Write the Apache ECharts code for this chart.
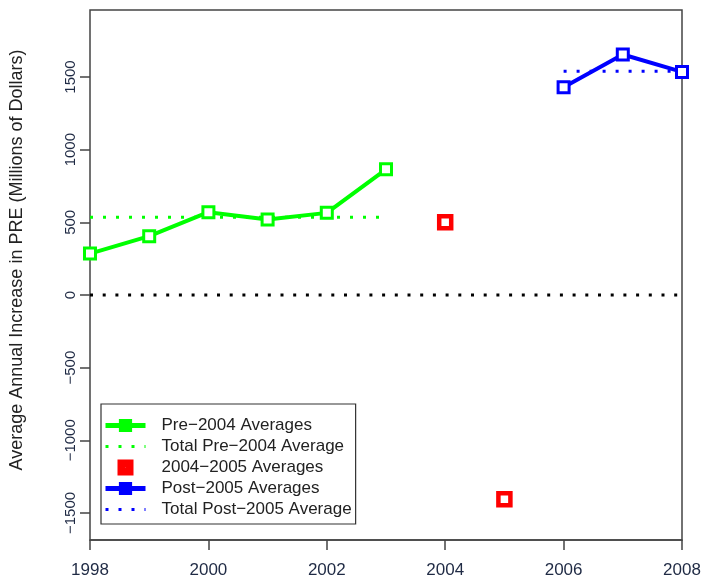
<!DOCTYPE html>
<html>
<head>
<meta charset="utf-8">
<script src="https://cdn.jsdelivr.net/npm/echarts@6/dist/echarts.min.js"></script>
<style>html,body{margin:0;padding:0;background:#fff;}#c{width:703px;height:577px;}</style>
</head>
<body>
<div id="c"></div>
<script>
const preYears = [1998, 1999, 2000, 2001, 2002, 2003];
const preValues = [285, 405, 570, 520, 565, 865];
const preAvg = 535;
const midYears = [2004, 2005];
const midValues = [500, -1405];
const postYears = [2006, 2007, 2008];
const postValues = [1430, 1655, 1535];
const postAvg = 1540;
const zeroLine = [0, 0];
const zeroYears = [1998, 2008];
const yTicks = [-1500, -1000, -500, 0, 500, 1000, 1500];
const names = ['Pre\u22122004 Averages', 'Total Pre\u22122004 Average', '2004\u22122005 Averages', 'Post\u22122005 Averages', 'Total Post\u22122005 Average'];

const font = 'Liberation Sans, Arial, sans-serif';
const hidden = { color: 'transparent', borderWidth: 0, opacity: 0 };
const chart = echarts.init(document.getElementById('c'));
chart.setOption({
  animation: false,
  backgroundColor: '#fff',
  grid: { left: 90, right: 21, top: 10, bottom: 37, show: true, borderColor: '#444', borderWidth: 1.5, backgroundColor: 'transparent', outerBoundsMode: 'none', containLabel: false },
  xAxis: {
    type: 'value', min: 1998, max: 2008, interval: 2,
    axisLine: { show: true, onZero: false, lineStyle: { color: '#444', width: 1.5 } },
    axisTick: { show: true, length: 10, inside: false, lineStyle: { color: '#444', width: 1.5 } },
    axisLabel: { margin: 22, fontSize: 17, color: '#1f2a44', fontFamily: font, formatter: v => String(v) },
    splitLine: { show: false }
  },
  yAxis: {
    type: 'value', min: -1686, max: 1961,
    name: 'Average Annual Increase in PRE (Millions of Dollars)',
    nameLocation: 'middle', nameRotate: 90, nameGap: 64,
    nameTextStyle: { fontSize: 18, color: '#222', fontFamily: font, padding: [0, 0, 0, 30] },
    axisLine: { show: false },
    axisTick: { show: true, length: 10, customValues: yTicks, lineStyle: { color: '#444', width: 1.5 } },
    axisLabel: { rotate: 90, margin: 12, fontSize: 15, color: '#1f2a44', fontFamily: font, customValues: yTicks, formatter: v => String(v).replace('-', '\u2212') },
    splitLine: { show: false }
  },
  legend: {
    orient: 'vertical', left: 101, top: 404,
    padding: [13, 4, 6, 2], itemGap: 4, itemWidth: 40, itemHeight: 14,
    borderColor: '#333', borderWidth: 1.2, backgroundColor: '#fff',
    textStyle: { fontSize: 17, lineHeight: 14, color: '#222', fontFamily: font, padding: [0, 0, 0, 11] },
    data: [
      { name: names[0], itemStyle: { color: '#00ff00', borderColor: '#00ff00' }, lineStyle: { width: 5 } },
      { name: names[1], itemStyle: hidden, lineStyle: { width: 3 } },
      { name: names[2], icon: 'path://M0,0L12,0L12,12L0,12Z M5,5L5,7L7,7L7,5Z', itemStyle: { color: '#ff0000' } },
      { name: names[3], itemStyle: { color: '#0000ff', borderColor: '#0000ff' }, lineStyle: { width: 5 } },
      { name: names[4], itemStyle: hidden, lineStyle: { width: 3 } }
    ]
  },
  series: [
    {
      name: 'zero', type: 'line', data: zeroYears.map((x, i) => [x, zeroLine[i]]),
      symbol: 'none', silent: true,
      lineStyle: { color: '#000', width: 3, type: [3, 9.7] }
    },
    {
      name: names[1], type: 'line', data: [[preYears[0], preAvg], [preYears[preYears.length - 1], preAvg]],
      symbol: 'none', color: '#00ff00',
      lineStyle: { color: '#00ff00', width: 3, type: [3, 10] }
    },
    {
      name: names[4], type: 'line', data: [[postYears[0], postAvg], [postYears[postYears.length - 1], postAvg]],
      symbol: 'none', color: '#0000ff',
      lineStyle: { color: '#0000ff', width: 3, type: [3, 10] }
    },
    {
      name: names[0], type: 'line', data: preYears.map((x, i) => [x, preValues[i]]),
      symbol: 'rect', symbolSize: 11, color: '#00ff00',
      lineStyle: { color: '#00ff00', width: 4 },
      itemStyle: { color: '#fff', borderColor: '#00ff00', borderWidth: 3 }
    },
    {
      name: names[2], type: 'scatter', data: midYears.map((x, i) => [x, midValues[i]]),
      symbol: 'rect', symbolSize: 12, color: '#ff0000',
      itemStyle: { color: '#fff', borderColor: '#ff0000', borderWidth: 4.5, opacity: 1 }
    },
    {
      name: names[3], type: 'line', data: postYears.map((x, i) => [x, postValues[i]]),
      symbol: 'rect', symbolSize: 11, color: '#0000ff',
      lineStyle: { color: '#0000ff', width: 4 },
      itemStyle: { color: '#fff', borderColor: '#0000ff', borderWidth: 3 }
    }
  ]
});
</script>
</body>
</html>
